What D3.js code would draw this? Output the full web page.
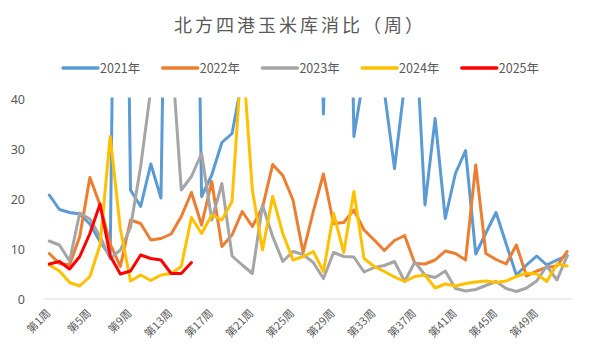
<!DOCTYPE html>
<html>
<head>
<meta charset="utf-8">
<script src="https://cdn.jsdelivr.net/npm/d3@7"></script>
<style>
  html, body { margin: 0; padding: 0; background: #fff; }
  svg { display: block; }
  text { font-family: "Noto Sans CJK SC", "Noto Sans", sans-serif; fill: #595959; }
</style>
</head>
<body>
<svg id="chart" width="600" height="360"></svg>
<script>
// ---- data ----
const weeks = d3.range(1, 53).map(n => "第" + n + "周");
const tickWeeks = [1, 5, 9, 13, 17, 21, 25, 29, 33, 37, 41, 45, 49].map(n => "第" + n + "周");
const seriesNames = ["2021年", "2022年", "2023年", "2024年", "2025年"];
const yTicks = [0, 10, 20, 30, 40];

const s2021 = [20.8, 17.9, 17.3, 17.0, 15.0, 11.5, 8.5, 180, 21.8, 18.5, 27.0, 20.2, 150, 120, 150, 20.5,
  24.8, 31.3, 33.1, 44, 80, 90, 100, 90, 80, 100, 120, 37, 110, 150, 32.5, 45, 55, 41.5, 26.1, 43,
  57, 18.8, 36.1, 16.1, 25.1, 29.7, 9.0, 13.2, 17.3, 11.0, 4.8, 6.8, 8.6, 6.8, 7.8, 8.7];
const s2022 = [9.1, 7.1, 6.8, 12.5, 24.3, 18.8, 11.0, 6.5, 15.8, 15.1, 11.8, 12.1, 13.0, 16.5, 21.3, 14.8,
  23.5, 10.5, 12.8, 17.5, 14.5, 18.3, 26.9, 24.7, 19.8, 9.3, 17.5, 25.0, 15.1, 15.3, 17.8, 13.8,
  11.8, 9.7, 11.7, 12.7, 7.1, 7.0, 7.8, 9.6, 9.1, 7.8, 26.8, 9.1, 7.9, 7.0, 10.8, 4.6, 5.6, 6.3, 6.6, 9.5];
const s2023 = [11.6, 10.8, 7.6, 17.2, 16.0, 12.5, 8.1, 9.8, 14.3, 26.5, 42, 55, 51, 21.8, 24.5, 29.1,
  15.8, 23.1, 8.6, 6.8, 5.1, 18.8, 12.5, 7.5, 9.5, 8.9, 7.3, 4.1, 9.3, 8.5, 8.4, 5.4,
  6.3, 6.7, 7.5, 3.5, 7.4, 4.8, 4.3, 5.6, 2.1, 1.6, 1.9, 2.7, 3.5, 2.1, 1.5, 2.2, 3.6, 6.6, 3.8, 8.6];
const s2024 = [6.8, 5.6, 3.3, 2.6, 4.5, 10.8, 32.5, 14.0, 3.6, 4.8, 3.7, 4.8, 5.1, 6.5, 16.3, 13.1,
  16.8, 15.8, 19.5, 50, 21.8, 9.8, 20.5, 13.1, 7.8, 8.5, 9.5, 5.5, 17.1, 9.3, 21.5, 8.1,
  6.5, 5.5, 4.4, 3.5, 4.5, 4.8, 2.2, 3.0, 2.6, 3.1, 3.4, 3.6, 3.3, 3.6, 4.5, 5.2, 5.0, 3.5, 7.0, 6.6];
const s2025 = [7.0, 7.5, 6.0, 8.5, 13.1, 19.0, 8.6, 5.0, 5.6, 8.8, 8.1, 7.8, 5.1, 5.1, 7.3];

const seriesValues = [s2021, s2022, s2023, s2024, s2025];
const colors = ["#5B9BD5", "#ED7D31", "#A5A5A5", "#FFC000", "#FF0000"];

// ---- layout ----
const svg = d3.select("#chart");
const x = d3.scaleBand().domain(weeks).range([44.2, 572.2]).padding(0);
const cx = d => x(d) + x.bandwidth() / 2;
const y = d3.scaleLinear().domain([0, 40]).range([299, 99]);

// title
svg.append("text")
  .attr("x", 300).attr("y", 32)
  .attr("text-anchor", "middle")
  .style("font-size", "18px")
  .style("letter-spacing", "3px")
  .text("北方四港玉米库消比（周）");

// legend
const legend = svg.append("g");
seriesNames.forEach((name, i) => {
  const lx = 63 + i * 99.7;
  legend.append("line")
    .attr("x1", lx).attr("x2", lx + 35)
    .attr("y1", 68).attr("y2", 68)
    .attr("stroke", colors[i]).attr("stroke-width", 3.5)
    .attr("stroke-linecap", "round");
  legend.append("text")
    .attr("x", lx + 37).attr("y", 72.5)
    .style("font-size", "12.5px")
    .text(name);
});

// y axis labels
const yAxis = d3.axisLeft(y).tickValues(yTicks).tickSize(0).tickPadding(19);
const gy = svg.append("g").attr("transform", "translate(44,0)").call(yAxis);
gy.select(".domain").remove();
gy.selectAll("text").style("font-size", "12.5px").style("fill", "#595959")
  .style("font-family", "'Noto Sans', sans-serif");

// baseline (x axis)
const xAxis = d3.axisBottom(x).tickValues(tickWeeks).tickSize(0).tickPadding(0);
const gx = svg.append("g").attr("transform", "translate(0,299)").call(xAxis);
gx.select(".domain").attr("stroke", "#D9D9D9").attr("stroke-width", 1.2)
  .attr("d", "M44.2,0H572.2");
gx.selectAll(".tick text")
  .attr("text-anchor", "end")
  .attr("dy", 0)
  .attr("y", 0)
  .attr("transform", "translate(2,15) rotate(-45)")
  .style("font-size", "11px").style("fill", "#595959")
  .style("font-family", "'Noto Sans CJK SC', sans-serif");

// clip
svg.append("defs").append("clipPath").attr("id", "plotClip")
  .append("rect").attr("x", 30).attr("y", 97.5).attr("width", 560).attr("height", 220);

const line = d3.line()
  .x((d, i) => cx(weeks[i]))
  .y(d => y(d));

const plot = svg.append("g").attr("clip-path", "url(#plotClip)");
seriesValues.forEach((vals, i) => {
  plot.append("path")
    .datum(vals)
    .attr("d", line)
    .attr("fill", "none")
    .attr("stroke", colors[i])
    .attr("stroke-width", 3)
    .attr("stroke-linejoin", "round")
    .attr("stroke-linecap", "round");
});
</script>
</body>
</html>
